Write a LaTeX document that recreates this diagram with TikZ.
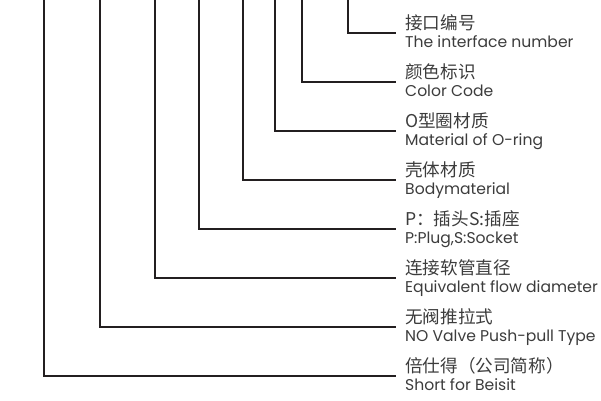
\documentclass[tikz,border=0pt]{standalone}
\usepackage{fontspec}
\setmainfont{Poppins}
\newfontfamily\cjk{Noto Sans CJK SC}
\usepackage{xcolor}
\definecolor{leadgray}{HTML}{231F20}
\definecolor{textgray}{HTML}{3C3C3C}
\tikzset{
    lead/.style={draw=leadgray, line width=1.1bp},
    cnlabel/.style={inner sep=0, anchor=base west, text=textgray, font=\cjk\fontsize{17.6bp}{20bp}\selectfont},
    enlabel/.style={inner sep=0, anchor=base west, text=textgray, font=\fontsize{15.6bp}{18bp}\selectfont}
}

\begin{document}
\begin{tikzpicture}[x=1bp,y=-1bp]

    \useasboundingbox (0,0) rectangle (601,400);

    %===========================
    % Top ends of the leads
    %===========================
    \coordinate (T1) at (348,0);
    \coordinate (T2) at (302,0);
    \coordinate (T3) at (275,0);
    \coordinate (T4) at (243,0);
    \coordinate (T5) at (199,0);
    \coordinate (T6) at (155,0);
    \coordinate (T7) at (100,0);
    \coordinate (T8) at (44,0);

    %===========================
    % Right ends of the leads
    %===========================
    \coordinate (E1) at (396,33);
    \coordinate (E2) at (396,82);
    \coordinate (E3) at (396,131);
    \coordinate (E4) at (396,180);
    \coordinate (E5) at (396,229);
    \coordinate (E6) at (396,278);
    \coordinate (E7) at (396,327);
    \coordinate (E8) at (396,376);

    %===========================
    % Labels
    %===========================
    \node (C1) [cnlabel] at (405,29) {接口编号};
    \node (L1) [enlabel] at (405,47.5) {The interface number};

    \node (C2) [cnlabel] at (405,78) {颜色标识};
    \node (L2) [enlabel] at (405,96.5) {Color Code};

    \node (C3) [cnlabel] at (405,127) {O型圈材质};
    \node (L3) [enlabel] at (405,145.5) {Material of O-ring};

    \node (C4) [cnlabel] at (405,176) {壳体材质};
    \node (L4) [enlabel] at (405,194.5) {Bodymaterial};

    \node (C5) [cnlabel] at (405,225) {P：插头S:插座};
    \node (L5) [enlabel] at (405,243.5) {P:Plug,S:Socket};

    \node (C6) [cnlabel] at (405,274) {连接软管直径};
    \node (L6) [enlabel] at (405,292.5) {Equivalent flow diameter};

    \node (C7) [cnlabel] at (405,323) {无阀推拉式};
    \node (L7) [enlabel] at (405,341.5) {NO Valve Push-pull Type};

    \node (C8) [cnlabel] at (405,372) {倍仕得（公司简称）};
    \node (L8) [enlabel] at (405,390.5) {Short for Beisit};

    %===========================
    % Leads
    %===========================
    \draw[lead] (T1) |- (E1);
    \draw[lead] (T2) |- (E2);
    \draw[lead] (T3) |- (E3);
    \draw[lead] (T4) |- (E4);
    \draw[lead] (T5) |- (E5);
    \draw[lead] (T6) |- (E6);
    \draw[lead] (T7) |- (E7);
    \draw[lead] (T8) |- (E8);

\end{tikzpicture}
\end{document}
